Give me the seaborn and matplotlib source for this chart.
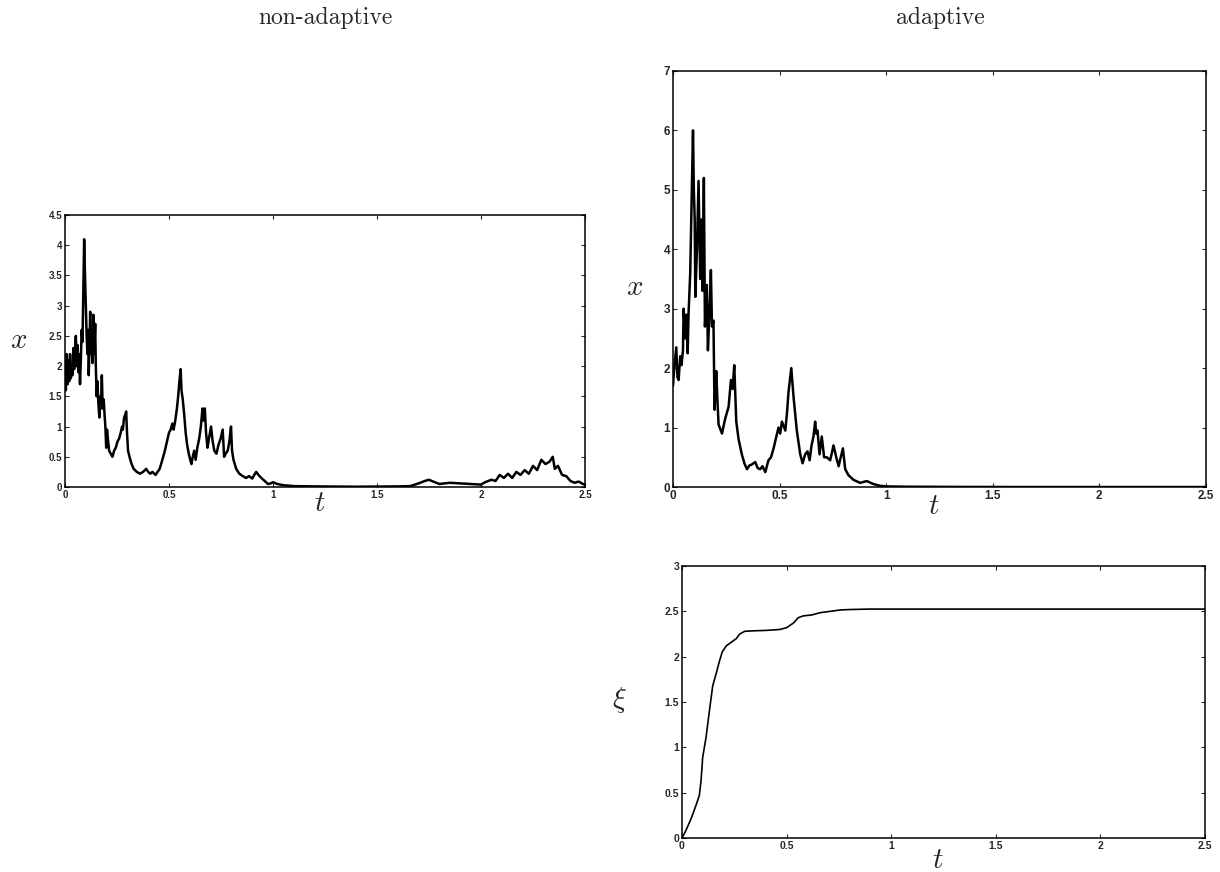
import numpy as np
import pandas as pd
import seaborn as sns
import matplotlib.pyplot as plt

# non-adaptive run: x(t)
t_non = [0, 0.004, 0.008, 0.012, 0.016, 0.02, 0.024, 0.028, 0.032, 0.036, 0.04, 0.044,
         0.048, 0.052, 0.056, 0.06, 0.064, 0.068, 0.072, 0.076, 0.08, 0.084, 0.088, 0.092,
         0.096, 0.1, 0.104, 0.108, 0.112, 0.114, 0.118, 0.121, 0.124, 0.128, 0.132, 0.136,
         0.14, 0.145, 0.148, 0.152, 0.156, 0.16, 0.165, 0.169, 0.173, 0.177, 0.181, 0.186,
         0.19, 0.194, 0.198, 0.202, 0.206, 0.212, 0.22, 0.228, 0.236, 0.244, 0.252, 0.26,
         0.268, 0.274, 0.278, 0.284, 0.29, 0.294, 0.298, 0.303, 0.31, 0.318, 0.33, 0.345,
         0.36, 0.375, 0.39, 0.4, 0.41, 0.42, 0.435, 0.445, 0.455, 0.468, 0.48, 0.49, 0.5,
         0.508, 0.516, 0.522, 0.53, 0.538, 0.544, 0.55, 0.556, 0.56, 0.566, 0.573, 0.58,
         0.587, 0.595, 0.602, 0.608, 0.614, 0.621, 0.628, 0.636, 0.645, 0.653, 0.661, 0.666,
         0.672, 0.678, 0.685, 0.692, 0.702, 0.71, 0.718, 0.728, 0.738, 0.748, 0.758, 0.765,
         0.772, 0.782, 0.79, 0.798, 0.803, 0.81, 0.823, 0.838, 0.855, 0.87, 0.885, 0.9, 0.91,
         0.919, 0.93, 0.944, 0.96, 0.976, 0.99, 1.0, 1.02, 1.05, 1.1, 1.2, 1.4, 1.6, 1.66,
         1.7, 1.73, 1.75, 1.77, 1.8, 1.85, 1.9, 1.95, 2.0, 2.02, 2.05, 2.07, 2.09, 2.11, 2.13,
         2.15, 2.17, 2.19, 2.21, 2.23, 2.25, 2.27, 2.29, 2.31, 2.33, 2.345, 2.355, 2.37, 2.39,
         2.41, 2.43, 2.45, 2.47, 2.49, 2.5]
x_non = [1.9, 1.6, 2.2, 1.7, 2.1, 1.75, 2.2, 1.8, 2.0, 1.85, 2.3, 1.95,
         2.2, 2.5, 2.0, 2.35, 1.9, 2.2, 1.7, 2.1, 2.6, 2.4, 3.2, 4.1,
         3.5, 3.0, 2.5, 2.2, 2.6, 1.85, 2.4, 2.9, 2.2, 2.5, 2.05, 2.85,
         2.2, 2.7, 2.0, 1.5, 1.75, 1.4, 1.15, 1.5, 1.3, 1.85, 1.3, 1.45,
         1.2, 1.0, 0.65, 0.95, 0.8, 0.6, 0.55, 0.5, 0.6, 0.65, 0.75, 0.8,
         0.9, 1.0, 0.95, 1.15, 1.2, 1.25, 0.9, 0.6, 0.5, 0.4, 0.3, 0.25,
         0.22, 0.25, 0.3, 0.25, 0.22, 0.25, 0.2, 0.25, 0.3, 0.45, 0.6, 0.75, 0.9,
         0.95, 1.05, 0.95, 1.1, 1.3, 1.5, 1.75, 1.95, 1.6, 1.45, 1.2, 0.9,
         0.7, 0.55, 0.45, 0.38, 0.5, 0.6, 0.45, 0.65, 0.8, 1.0, 1.3, 1.1,
         1.3, 0.9, 0.65, 0.8, 1.0, 0.75, 0.6, 0.55, 0.7, 0.8, 0.95, 0.5,
         0.55, 0.6, 0.75, 1.0, 0.6, 0.45, 0.3, 0.22, 0.18, 0.15, 0.18, 0.14, 0.2,
         0.25, 0.2, 0.15, 0.1, 0.05, 0.06, 0.08, 0.05, 0.03, 0.015, 0.01, 0.005, 0.01, 0.015,
         0.06, 0.1, 0.12, 0.09, 0.05, 0.07, 0.06, 0.05, 0.04, 0.08, 0.12, 0.1, 0.2, 0.15, 0.22,
         0.15, 0.25, 0.2, 0.28, 0.22, 0.35, 0.28, 0.45, 0.38, 0.42, 0.5, 0.3, 0.35, 0.2,
         0.18, 0.1, 0.07, 0.09, 0.05, 0.04]

# adaptive run: x(t)
t_ad = [0, 0.006, 0.0156, 0.021, 0.0266, 0.034, 0.04, 0.047, 0.05, 0.058, 0.0625, 0.069,
        0.073, 0.081, 0.094, 0.098, 0.102, 0.105, 0.1125, 0.12, 0.128, 0.133, 0.139, 0.145,
        0.15, 0.159, 0.164, 0.172, 0.178, 0.183, 0.19, 0.195, 0.203, 0.208, 0.214, 0.23,
        0.245, 0.261, 0.272, 0.28, 0.2875, 0.297, 0.308, 0.323, 0.335, 0.347, 0.358, 0.37,
        0.386, 0.397, 0.409, 0.42, 0.433, 0.448, 0.46, 0.472, 0.485, 0.495, 0.503, 0.511,
        0.527, 0.535, 0.542, 0.555, 0.566, 0.581, 0.597, 0.608, 0.62, 0.631, 0.641, 0.65,
        0.659, 0.667, 0.672, 0.678, 0.6875, 0.698, 0.709, 0.722, 0.7375, 0.753, 0.766, 0.777,
        0.797, 0.808, 0.823, 0.847, 0.878, 0.909, 0.94, 0.972, 1.0, 1.1, 1.3, 1.6, 2.0, 2.5]
x_ad = [1.7, 2.0, 2.35, 1.85, 1.8, 2.2, 2.05, 2.3, 3.0, 2.5, 2.9, 2.25,
        2.9, 3.6, 6.0, 5.0, 4.5, 3.2, 4.0, 5.15, 3.5, 4.5, 3.3, 5.2,
        2.7, 3.4, 2.3, 3.0, 3.65, 2.7, 2.8, 1.3, 1.95, 1.5, 1.05, 0.9,
        1.15, 1.35, 1.8, 1.65, 2.05, 1.1, 0.8, 0.55, 0.4, 0.3, 0.36, 0.38,
        0.42, 0.32, 0.3, 0.35, 0.25, 0.45, 0.5, 0.65, 0.85, 1.0, 0.9, 1.1,
        0.95, 1.25, 1.6, 2.0, 1.5, 0.95, 0.55, 0.4, 0.55, 0.6, 0.45, 0.7,
        0.85, 1.1, 0.9, 0.95, 0.55, 0.85, 0.5, 0.5, 0.45, 0.7, 0.5, 0.35,
        0.65, 0.3, 0.2, 0.12, 0.07, 0.1, 0.05, 0.02, 0.01, 0.005, 0.002, 0.0, 0.0, 0.0]

# adaptive gain xi(t)
t_xi = [0, 0.019, 0.043, 0.067, 0.083, 0.091, 0.099, 0.115, 0.131, 0.147, 0.163, 0.179,
        0.192, 0.212, 0.236, 0.26, 0.276, 0.3, 0.34, 0.404, 0.468, 0.5, 0.532, 0.556,
        0.58, 0.62, 0.66, 0.708, 0.756, 0.8, 0.9, 1.5, 2.0, 2.5]
xi = [0, 0.084, 0.21, 0.36, 0.47, 0.63, 0.89, 1.11, 1.40, 1.68, 1.81, 1.95,
      2.05, 2.12, 2.16, 2.2, 2.25, 2.28, 2.285, 2.29, 2.30, 2.32, 2.37, 2.43,
      2.45, 2.46, 2.485, 2.50, 2.515, 2.52, 2.525, 2.525, 2.525, 2.525]

t_ticks = [0, 0.5, 1, 1.5, 2, 2.5]
t_labels = ['0', '0.5', '1', '1.5', '2', '2.5']
y_non_ticks = [0, 0.5, 1, 1.5, 2, 2.5, 3, 3.5, 4, 4.5]
y_non_labels = ['0', '0.5', '1', '1.5', '2', '2.5', '3', '3.5', '4', '4.5']
y_ad_ticks = [0, 1, 2, 3, 4, 5, 6, 7]
y_ad_labels = ['0', '1', '2', '3', '4', '5', '6', '7']
y_xi_ticks = [0, 0.5, 1, 1.5, 2, 2.5, 3]
y_xi_labels = ['0', '0.5', '1', '1.5', '2', '2.5', '3']

sns.set_style('ticks')
plt.rcParams['mathtext.fontset'] = 'cm'
plt.rcParams['font.family'] = ['Liberation Sans', 'DejaVu Sans']

fig = plt.figure(figsize=(12.2, 8.72), dpi=100)
ax1 = fig.add_axes([0.0533, 0.4415, 0.4262, 0.3119])
ax2 = fig.add_axes([0.5516, 0.4415, 0.4369, 0.4771])
ax3 = fig.add_axes([0.5590, 0.0390, 0.4287, 0.3119])

df_non = pd.DataFrame({'t': t_non, 'x': x_non})
df_ad = pd.DataFrame({'t': t_ad, 'x': x_ad})
df_xi = pd.DataFrame({'t': t_xi, 'xi': xi})

sns.lineplot(data=df_non, x='t', y='x', ax=ax1, color='black', lw=1.8,
             sort=False, estimator=None)
sns.lineplot(data=df_ad, x='t', y='x', ax=ax2, color='black', lw=1.8,
             sort=False, estimator=None)
sns.lineplot(data=df_xi, x='t', y='xi', ax=ax3, color='black', lw=1.2,
             sort=False, estimator=None)


def style(ax, yt, yl, ylim, fs, ylab, ylab_xy, tlab_y):
    ax.set_xlim(0, 2.5)
    ax.set_ylim(*ylim)
    ax.set_xticks(t_ticks, t_labels)
    ax.set_yticks(yt, yl)
    ax.tick_params(direction='in', top=True, right=True, length=3, width=0.8,
                   labelsize=fs, pad=2)
    for lab in ax.get_xticklabels() + ax.get_yticklabels():
        lab.set_fontweight('bold')
    for s in ax.spines.values():
        s.set_visible(True)
        s.set_linewidth(1.1)
        s.set_color('black')
    ax.set_xlabel(r'$t$', fontsize=21, va='center')
    ax.xaxis.set_label_coords(0.49, tlab_y)
    ax.set_ylabel(ylab, fontsize=21, rotation=0, va='center', ha='center')
    ax.yaxis.set_label_coords(*ylab_xy)


style(ax1, y_non_ticks, y_non_labels, (0, 4.5), 7, r'$x$', (-0.09, 0.54), -0.06)
style(ax2, y_ad_ticks, y_ad_labels, (0, 7), 8.5, r'$x$', (-0.071, 0.48), -0.045)
style(ax3, y_xi_ticks, y_xi_labels, (0, 3), 7.5, r'$\xi$', (-0.119, 0.507), -0.08)

fig.text(325 / 1220, 1 - 18 / 872, 'non-adaptive', ha='center', va='center',
         fontsize=17, family='cmr10')
fig.text(940 / 1220, 1 - 18 / 872, 'adaptive', ha='center', va='center',
         fontsize=17, family='cmr10')

fig.savefig('out.png', dpi=100)
